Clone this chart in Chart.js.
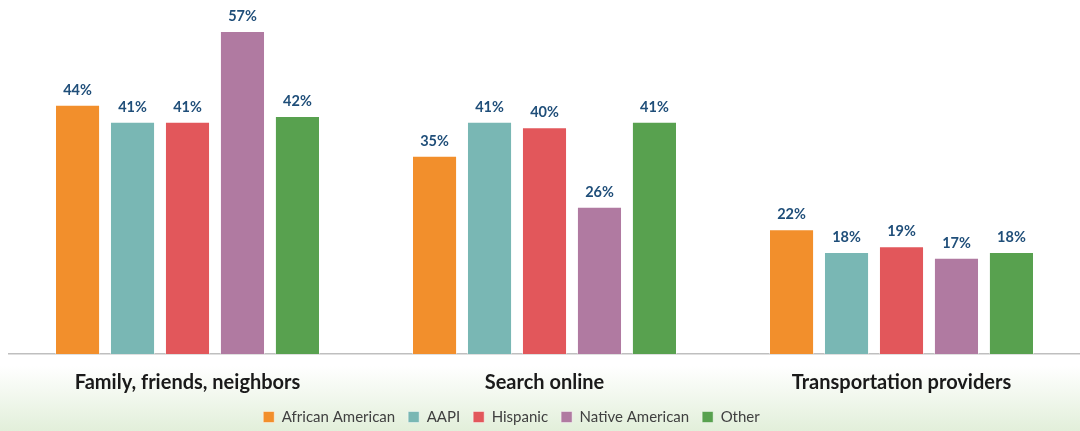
<!DOCTYPE html>
<html><head><meta charset="utf-8">
<script src="https://cdn.jsdelivr.net/npm/chart.js@4"></script>
<style>
html,body{margin:0;padding:0;}
body{width:1080px;height:431px;background:linear-gradient(to bottom,#ffffff 0px,#ffffff 366px,#e2efda 431px);}
#wrap{position:relative;width:1080px;height:431px;}
</style></head>
<body><div id="wrap"><canvas id="c" width="1080" height="431"></canvas></div>
<script>
const categories = ["Family, friends, neighbors", "Search online", "Transportation providers"];
const seriesNames = ["African American", "AAPI", "Hispanic", "Native American", "Other"];
const africanAmerican = [44, 35, 22];
const aapi = [41, 41, 18];
const hispanic = [41, 40, 19];
const nativeAmerican = [57, 26, 17];
const other = [42, 41, 18];
const colors = ["#F28F2C", "#79B7B4", "#E2575B", "#B07AA1", "#58A14F"];
const seriesValues = [africanAmerican, aapi, hispanic, nativeAmerican, other];

const valueLabels = {
  id: 'valueLabels',
  afterLayout(chart) {
    // let axis label glyphs overflow the (tight) axis box without clipping
    chart.scales.x.bottom += 8;
    // legend in the reference sits a little left of centre
    chart.legend.left -= 33;
    chart.legend.right -= 33;
  },
  afterDatasetsDraw(chart) {
    const ctx = chart.ctx;
    ctx.save();
    ctx.font = 'bold 14.5px Lato, "Open Sans", sans-serif';
    ctx.fillStyle = '#1F4E79';
    ctx.textAlign = 'center';
    ctx.textBaseline = 'alphabetic';
    chart.data.datasets.forEach((ds, i) => {
      const meta = chart.getDatasetMeta(i);
      meta.data.forEach((bar, j) => {
        ctx.fillText(ds.data[j] + '%', bar.x, bar.y - 10);
      });
    });
    ctx.restore();
  }
};

new Chart(document.getElementById('c'), {
  type: 'bar',
  data: {
    labels: categories,
    datasets: seriesNames.map((n, i) => ({
      label: n,
      data: seriesValues[i],
      backgroundColor: colors[i],
      borderColor: 'rgba(255,255,255,0.45)',
      borderWidth: 1,
      categoryPercentage: 0.77,
      barPercentage: 0.82
    }))
  },
  options: {
    responsive: false,
    animation: false,
    layout: { padding: { left: 9, right: 0, top: 14, bottom: -3.5 } },
    plugins: {
      tooltip: { enabled: false },
      legend: {
        position: 'bottom',
        labels: {
          boxWidth: 11, boxHeight: 11, padding: 13,
          color: '#404040',
          font: { size: 15, family: 'Lato, "Open Sans", sans-serif' }
        }
      }
    },
    scales: {
      y: { display: false, min: 0, max: 60 },
      x: {
        grid: { display: false, drawTicks: false },
        border: { display: true, color: '#BFBFBF', width: 1.5 },
        ticks: {
          padding: 16.3,
          color: '#1a1a1a',
          font: { size: 20, weight: 'bold', family: 'Lato, "Open Sans", sans-serif' }
        },
        afterFit(scale) { scale.height = 42.5; }
      }
    }
  },
  plugins: [valueLabels]
});
</script></body></html>
